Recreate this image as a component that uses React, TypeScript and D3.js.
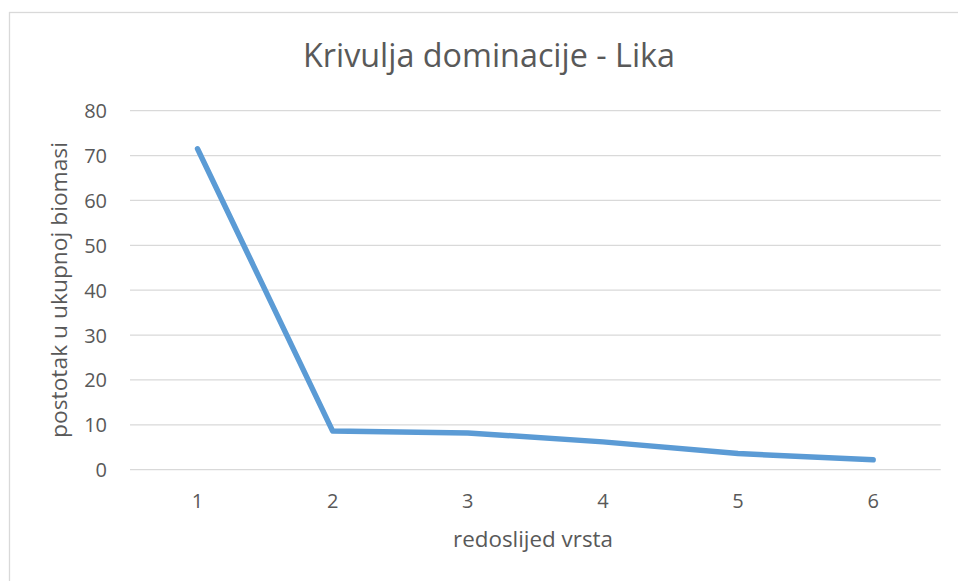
import * as d3 from "d3";

const categories = ["1", "2", "3", "4", "5", "6"];
const values = [71.5, 8.6, 8.2, 6.2, 3.6, 2.2];
const yTicks = [0, 10, 20, 30, 40, 50, 60, 70, 80];

const title = "Krivulja dominacije - Lika";
const xTitle = "redoslijed vrsta";
const yTitle = "postotak u ukupnoj biomasi";

export default function App() {
    const width = 958;
    const height = 581;
    const left = 130;
    const right = 940.7;
    const top = 110.7;
    const bottom = 469.7;

    const x = d3.scaleBand().domain(categories).range([left, right]);
    const y = d3.scaleLinear().domain([0, 80]).range([bottom, top]);

    const line = d3.line<number>()
        .x((d, i) => (x(categories[i]) ?? 0) + x.bandwidth() / 2)
        .y((d) => y(d));

    const font = "'Open Sans', sans-serif";
    const textColor = "#595959";

    return (
        <svg
            width={width}
            height={height}
            style={{ position: "absolute", left: 0, top: 0, background: "#fff" }}
        >
            {/* chart border */}
            <rect x={9.5} y={12.5} width={980} height={600} fill="#fff" stroke="#d9d9d9" strokeWidth={1.3} />

            <text x={489} y={67} textAnchor="middle" fontFamily={font} fontSize={32.5} fill={textColor}
                textLength={372} lengthAdjust="spacingAndGlyphs">
                {title}
            </text>

            {/* gridlines */}
            {yTicks.map((t) => (
                <g key={t}>
                    <line x1={left} x2={right} y1={y(t)} y2={y(t)} stroke="#d9d9d9" strokeWidth={1.3} />
                    <text
                        x={107}
                        y={y(t)}
                        textAnchor="end"
                        dominantBaseline="central"
                        fontFamily={font}
                        fontSize={20}
                        fill={textColor}
                    >
                        {t}
                    </text>
                </g>
            ))}

            {/* x labels */}
            {categories.map((c) => (
                <text
                    key={c}
                    x={(x(c) ?? 0) + x.bandwidth() / 2}
                    y={508}
                    textAnchor="middle"
                    fontFamily={font}
                    fontSize={20}
                    fill={textColor}
                >
                    {c}
                </text>
            ))}

            <path
                d={line(values) ?? ""}
                fill="none"
                stroke="#5b9bd5"
                strokeWidth={5.5}
                strokeLinecap="round"
                strokeLinejoin="round"
            />

            <text x={533} y={547} textAnchor="middle" fontFamily={font} fontSize={21} fill={textColor}
                textLength={160} lengthAdjust="spacingAndGlyphs">
                {xTitle}
            </text>

            <text
                transform={`translate(67, 290) rotate(-90)`}
                textAnchor="middle"
                fontFamily={font}
                fontSize={21}
                fill={textColor}
                textLength={296}
                lengthAdjust="spacingAndGlyphs"
            >
                {yTitle}
            </text>
        </svg>
    );
}
